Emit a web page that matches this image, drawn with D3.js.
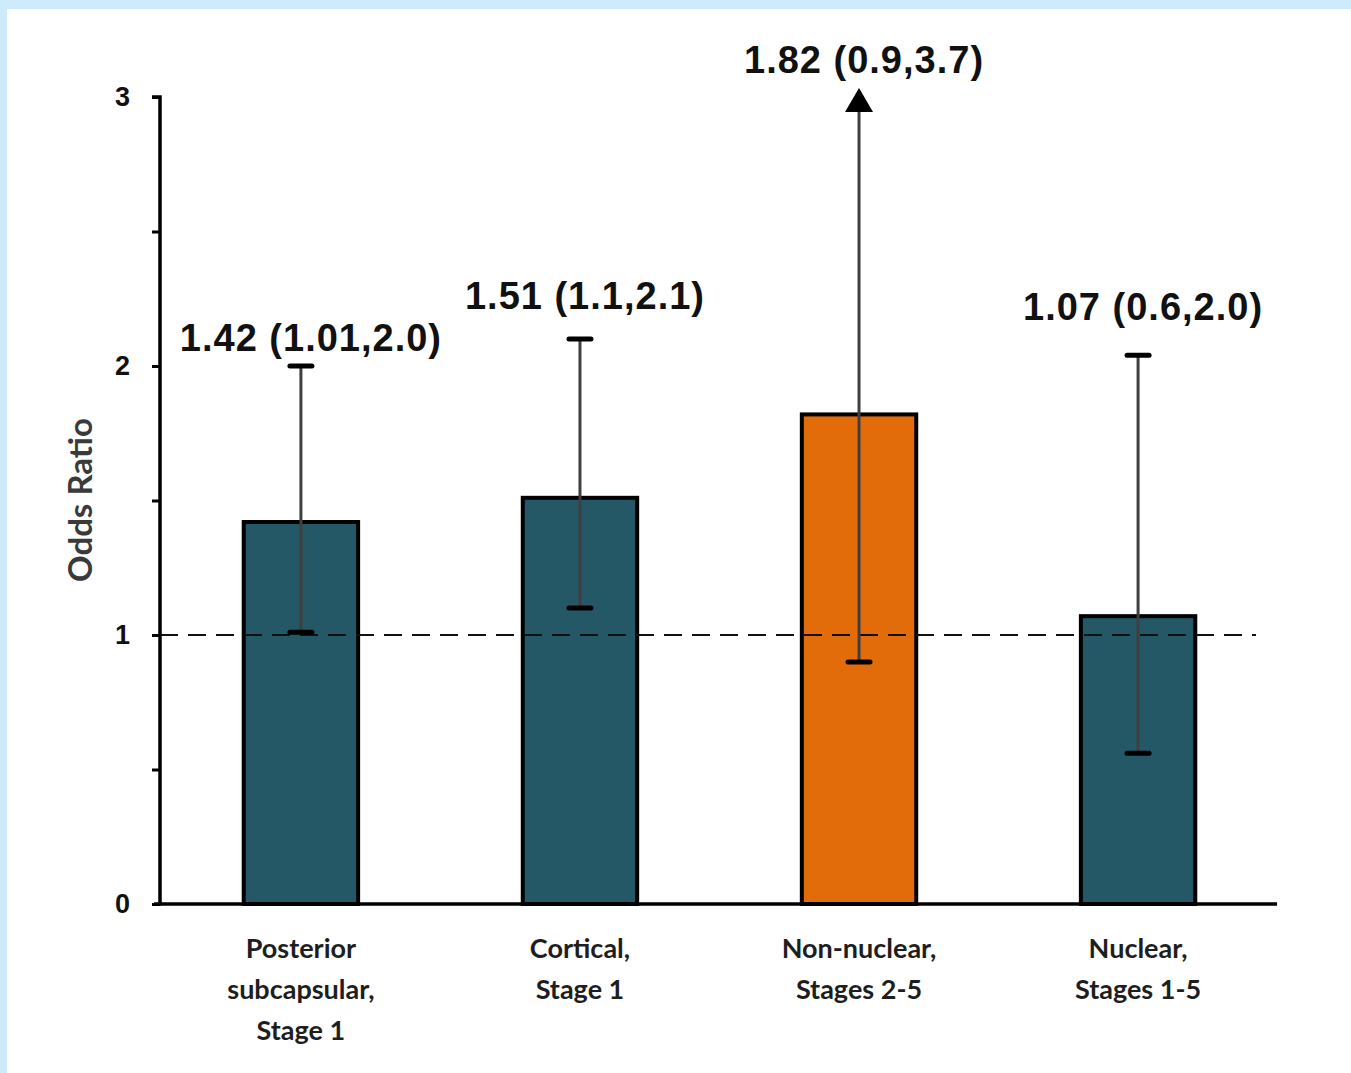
<!DOCTYPE html>
<html>
<head>
<meta charset="utf-8">
<script src="https://cdn.jsdelivr.net/npm/d3@7/dist/d3.min.js"></script>
<style>
  html, body { margin: 0; padding: 0; background: #cdebfd; }
  svg { display: block; }
</style>
</head>
<body>
<script>
// Odds ratios with 95% confidence intervals by cataract type
const categories = [
  ["Posterior", "subcapsular,", "Stage 1"],
  ["Cortical,", "Stage 1"],
  ["Non-nuclear,", "Stages 2-5"],
  ["Nuclear,", "Stages 1-5"]
];
const oddsRatio = [1.42, 1.51, 1.82, 1.07];
const ciLow = [1.01, 1.1, 0.9, 0.56];
const ciHigh = [2.0, 2.1, 3.7, 2.04];
const ciLabels = ["1.01", "1.1", "0.9", "0.6"];
const ciHighLabels = ["2.0", "2.1", "3.7", "2.0"];
const highlight = [false, false, true, false];
const yTicks = [0, 1, 2, 3];
const yMinorTicks = [0.5, 1.5, 2.5];
const referenceValue = 1;

const W = 1351, H = 1073;
const svg = d3.select("body").append("svg").attr("width", W).attr("height", H);

// white plot card inside the light-blue frame
svg.append("rect").attr("x", 7).attr("y", 9).attr("width", W - 7).attr("height", H - 9).attr("fill", "#ffffff");

const x0 = 160, x1 = 1279, yBottom = 904, yTop = 97;
const x = d3.scaleBand().domain(d3.range(categories.length)).range([x0, x1]).paddingInner(0.59).paddingOuter(0.3);
const y = d3.scaleLinear().domain([0, 3]).range([yBottom, yTop]);
const yMax = 3;

const teal = "#245866", orange = "#e36c0a";

// bars
svg.append("g").selectAll("rect").data(oddsRatio).join("rect")
  .attr("x", (d, i) => x(i))
  .attr("y", d => y(d))
  .attr("width", x.bandwidth())
  .attr("height", d => y(0) - y(d))
  .attr("fill", (d, i) => highlight[i] ? orange : teal)
  .attr("stroke", "#000")
  .attr("stroke-width", 4);

// reference line at OR = 1
svg.append("line")
  .attr("x1", x0).attr("x2", 1256)
  .attr("y1", y(referenceValue)).attr("y2", y(referenceValue))
  .attr("stroke", "#111").attr("stroke-width", 2.2)
  .attr("stroke-dasharray", "18,10");

// error bars
const eb = svg.append("g");
oddsRatio.forEach((d, i) => {
  const cx = x(i) + x.bandwidth() / 2;
  const clipped = ciHigh[i] > yMax;
  const topY = clipped ? y(yMax) - 6 : y(ciHigh[i]);
  eb.append("line")
    .attr("x1", cx).attr("x2", cx)
    .attr("y1", y(ciLow[i])).attr("y2", topY)
    .attr("stroke", "#3f3f3f").attr("stroke-width", 3);
  // lower cap
  eb.append("line")
    .attr("x1", cx - 11).attr("x2", cx + 11)
    .attr("y1", y(ciLow[i])).attr("y2", y(ciLow[i]))
    .attr("stroke", "#000").attr("stroke-width", 5).attr("stroke-linecap", "round");
  if (clipped) {
    // arrowhead: interval extends beyond the axis
    const tip = y(yMax) - 9;
    eb.append("path")
      .attr("d", `M${cx},${tip} L${cx - 14},${tip + 24} L${cx + 14},${tip + 24} Z`)
      .attr("fill", "#000");
  } else {
    eb.append("line")
      .attr("x1", cx - 11).attr("x2", cx + 11)
      .attr("y1", y(ciHigh[i])).attr("y2", y(ciHigh[i]))
      .attr("stroke", "#000").attr("stroke-width", 5).attr("stroke-linecap", "round");
  }
});

// value labels
const labelOffset = [15, 30, 0, 35];
svg.append("g").selectAll("text").data(oddsRatio).join("text")
  .attr("x", (d, i) => x(i) + x.bandwidth() / 2 + (i === 0 ? 10 : 5))
  .attr("y", (d, i) => ciHigh[i] > yMax ? 73 : y(ciHigh[i]) - labelOffset[i])
  .attr("text-anchor", "middle")
  .attr("font-family", "'Liberation Sans', Arial, sans-serif")
  .attr("font-weight", "bold")
  .attr("font-size", 38)
  .attr("letter-spacing", 1)
  .attr("fill", "#111")
  .text((d, i) => `${d.toFixed(2)} (${ciLabels[i]},${ciHighLabels[i]})`);

// y axis
const yAxis = d3.axisLeft(y).tickValues(yTicks).tickFormat(d3.format("d")).tickSize(8).tickPadding(22);
const gy = svg.append("g").attr("transform", `translate(${x0},0)`).call(yAxis);
gy.select(".domain").attr("stroke", "#000").attr("stroke-width", 3.5).attr("d", `M-8,${yTop}H0V${yBottom + 1.5}`);
gy.selectAll(".tick line").attr("stroke", "#000").attr("stroke-width", 3);
gy.selectAll(".tick text")
  .attr("font-family", "'Liberation Sans', Arial, sans-serif")
  .attr("font-weight", "bold").attr("font-size", 27).attr("fill", "#111");
const yMinor = d3.axisLeft(y).tickValues(yMinorTicks).tickFormat("").tickSize(8);
const gm = svg.append("g").attr("transform", `translate(${x0},0)`).call(yMinor);
gm.select(".domain").remove();
gm.selectAll(".tick line").attr("stroke", "#000").attr("stroke-width", 3);

// x axis baseline
svg.append("line")
  .attr("x1", x0 - 6).attr("x2", 1277)
  .attr("y1", yBottom).attr("y2", yBottom)
  .attr("stroke", "#000").attr("stroke-width", 3.5);

// category labels
const cg = svg.append("g");
categories.forEach((lines, i) => {
  const t = cg.append("text")
    .attr("x", x(i) + x.bandwidth() / 2)
    .attr("y", 958)
    .attr("text-anchor", "middle")
    .attr("font-family", "Lato, 'Open Sans', sans-serif")
    .attr("font-weight", "bold")
    .attr("font-size", 27)
    .attr("fill", "#1e1e1e");
  lines.forEach((s, k) => {
    t.append("tspan").attr("x", x(i) + x.bandwidth() / 2).attr("dy", k === 0 ? 0 : 41).text(s);
  });
});

// y axis title
svg.append("text")
  .attr("transform", `translate(92,500) rotate(-90)`)
  .attr("text-anchor", "middle")
  .attr("font-family", "Lato, 'Open Sans', sans-serif")
  .attr("font-weight", "bold")
  .attr("font-size", 33)
  .attr("fill", "#3a3a3a")
  .text("Odds Ratio");
</script>
</body>
</html>
